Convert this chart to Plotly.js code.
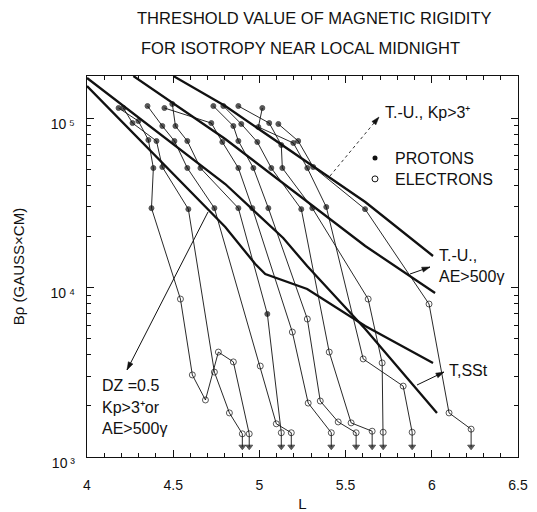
<!DOCTYPE html>
<html><head><meta charset="utf-8">
<script src="https://cdn.plot.ly/plotly-3.0.1.min.js"></script>
<style>html,body{margin:0;padding:0;background:#fff}#chart{width:537px;height:512px}</style>
</head><body><div id="chart"></div>
<script>
// ---- Data ----
// Model curves (L, B-rho in gauss*cm)
const tuKpL = [4.501, 4.802, 5.614, 6.007];
const tuKpB = [1.769e5, 1.177e5, 3.194e4, 1.534e4];
const tuAeL = [4.269, 4.802, 5.614, 6.019];
const tuAeB = [1.769e5, 7.52e4, 1.757e4, 9.28e3];
const dzL = [4.0, 4.802, 4.976, 5.034, 5.277, 5.614, 6.007];
const dzB = [1.545e5, 2.275e4, 1.376e4, 1.201e4, 9.80e3, 5.93e3, 3.59e3];
const sstL = [4.0, 4.802, 5.138, 5.277, 5.614, 6.030];
const sstB = [1.722e5, 4.08e4, 1.959e4, 1.339e4, 5.69e3, 1.818e3];

// Satellite passes: first nProton points are protons, the rest electrons; last point is an upper limit
const p1L = [4.183, 4.298, 4.356, 4.385, 4.374, 4.542, 4.611, 4.687, 4.762, 4.849, 4.941];
const p1B = [1.146e5, 9.60e4, 7.42e4, 5.07e4, 2.94e4, 8.55e3, 3.05e3, 2.17e3, 4.16e3, 3.64e3, 1.37e3];
const p2L = [4.211, 4.264, 4.403, 4.437, 4.588, 4.739, 4.826, 4.901];
const p2B = [1.146e5, 9.34e4, 7.32e4, 5.14e4, 2.90e4, 3.17e3, 1.82e3, 1.37e3];
const p3L = [4.351, 4.437, 4.507, 4.582, 4.739, 5.005, 5.098, 5.185];
const p3B = [1.177e5, 8.97e4, 7.32e4, 5.07e4, 2.94e4, 3.44e3, 1.57e3, 1.39e3];
const p4L = [4.495, 4.513, 4.582, 4.658, 4.878, 5.046, 5.127];
const p4B = [1.21e5, 8.97e4, 7.32e4, 5.07e4, 2.94e4, 6.98e3, 1.39e3];
const p5L = [4.449, 4.721, 4.785, 4.878, 4.959, 5.191, 5.283, 5.417];
const p5B = [1.146e5, 9.34e4, 7.22e4, 5.07e4, 2.94e4, 5.46e3, 2.08e3, 1.39e3];
const p6L = [4.733, 4.849, 4.878, 4.965, 5.052, 5.278, 5.353, 5.457, 5.561];
const p6B = [1.177e5, 8.97e4, 7.32e4, 5.07e4, 2.94e4, 6.52e3, 2.14e3, 1.61e3, 1.39e3];
const p7L = [4.791, 4.895, 4.988, 5.069, 5.243, 5.405, 5.532, 5.654];
const p7B = [1.177e5, 9.22e4, 7.22e4, 5.07e4, 2.90e4, 4.16e3, 1.59e3, 1.42e3];
const p8L = [4.878, 5.057, 5.127, 5.133, 5.307, 5.631, 5.712, 5.718];
const p8B = [1.177e5, 9.34e4, 6.93e4, 5.07e4, 2.94e4, 8.55e3, 3.59e3, 1.40e3];
const p9L = [5.017, 4.994, 5.197, 5.278, 5.388, 5.602, 5.834, 5.886];
const p9B = [1.146e5, 8.85e4, 7.12e4, 5.07e4, 2.985e4, 3.79e3, 2.62e3, 1.40e3];
const p10L = [5.110, 5.225, 5.312, 5.613, 5.984, 6.100, 6.228];
const p10B = [9.22e4, 7.32e4, 5.14e4, 2.90e4, 7.99e3, 1.82e3, 1.46e3];
const nProton = [5, 5, 5, 6, 5, 5, 5, 5, 5, 4];
const limitTipB = 1.15e3;

const xTickVals = [4, 4.5, 5, 5.5, 6, 6.5];
const xTickText = ['4', '4.5', '5', '5.5', '6', '6.5'];
const yTickVals = [1e3, 1e4, 1e5];
const yTickText = ['10\u2009\u00B3', '10\u2009\u2074', '10\u2009\u2075'];

// ---- Build traces ----
const FONT = 'Liberation Sans, Arial, sans-serif';
const INK = '#111';
const passL = [p1L, p2L, p3L, p4L, p5L, p6L, p7L, p8L, p9L, p10L];
const passB = [p1B, p2B, p3B, p4B, p5B, p6B, p7B, p8B, p9B, p10B];
const traces = [];

passL.forEach((L, i) => {
  const B = passB[i];
  const xs = L.concat([L[L.length - 1]]);
  const ys = B.concat([limitTipB]);
  const sym = [], size = [];
  xs.forEach((_, j) => {
    if (j === xs.length - 1) { sym.push('triangle-down'); size.push(6); }
    else if (j < nProton[i]) { sym.push('circle'); size.push(5); }
    else { sym.push('circle-open'); size.push(6); }
  });
  traces.push({
    x: xs, y: ys, type: 'scatter', mode: 'lines+markers', showlegend: false,
    name: 'pass ' + (i + 1),
    line: {color: INK, width: 0.9},
    marker: {symbol: sym, size: size, color: INK, line: {color: INK, width: 1}}
  });
});

[[tuKpL, tuKpB, 'T.-U., Kp>3+'], [tuAeL, tuAeB, 'T.-U., AE>500γ'],
 [dzL, dzB, 'DZ=0.5'], [sstL, sstB, 'T,SSt']].forEach(([L, B, nm]) => {
  traces.push({x: L, y: B, type: 'scatter', mode: 'lines', name: nm, showlegend: false,
    line: {color: INK, width: 2.3}});
});

traces.push({x: [null], y: [null], type: 'scatter', mode: 'markers', name: 'PROTONS',
  legend: 'legend', marker: {symbol: 'circle', size: 5, color: INK}});
traces.push({x: [null], y: [null], type: 'scatter', mode: 'markers', name: 'ELECTRONS',
  legend: 'legend2', marker: {symbol: 'circle-open', size: 6, color: INK, line: {color: INK, width: 1}}});

const yMinor = [];
[1e3, 1e4, 1e5].forEach(d => { for (let k = 2; k <= 9; k++) if (k * d < 1.77e5) yMinor.push(k * d); });

// plot area in pixels: x 87..518, y 76..457
const PX0 = 87, PW = 431, PY1 = 457, PH = 381;
const px = v => (v - PX0) / PW;
const py = v => (PY1 - v) / PH;
const txt = (t, xPix, yPix, size) => ({
  text: t, xref: 'paper', yref: 'paper', x: px(xPix), y: py(yPix),
  xanchor: 'left', yanchor: 'middle', showarrow: false,
  font: {family: FONT, size: size || 16, color: INK}
});
// pointer line from (x1,y1) to an arrow head at (x2,y2), pixel coordinates
const shapes = [];
function pointer(x1, y1, x2, y2, dash, width, color) {
  const c = color || INK;
  shapes.push({type: 'line', xref: 'paper', yref: 'paper', x0: px(x1), y0: py(y1), x1: px(x2), y1: py(y2),
    line: {color: c, width: width || 1, dash: dash || 'solid'}});
  const dx = x2 - x1, dy = y2 - y1, n = Math.hypot(dx, dy), ux = dx / n, uy = dy / n;
  const hl = 8, hw = 2.6;
  const bx = x2 - ux * hl, by = y2 - uy * hl;
  const p = [[x2, y2], [bx - uy * hw, by + ux * hw], [bx + uy * hw, by - ux * hw]];
  shapes.push({type: 'path', xref: 'paper', yref: 'paper', fillcolor: INK, line: {color: INK, width: 0.5},
    path: 'M' + p.map(q => px(q[0]) + ',' + py(q[1])).join('L') + 'Z'});
}
pointer(330, 176, 379, 117, 'dot', 1, '#333');
pointer(410, 274, 430, 267);
pointer(417, 385, 444, 372);
pointer(208, 212, 127, 370);

const legendBase = {xanchor: 'left', yanchor: 'top', bgcolor: 'rgba(0,0,0,0)', borderwidth: 0,
  font: {family: FONT, size: 16, color: INK}};

const layout = {
  width: 537, height: 512,
  margin: {l: PX0, r: 537 - PX0 - PW, t: PY1 - PH, b: 512 - PY1},
  paper_bgcolor: '#fff', plot_bgcolor: '#fff',
  font: {family: FONT, color: INK},
  title: {text: 'THRESHOLD VALUE OF MAGNETIC RIGIDITY', xref: 'container', x: 137 / 537,
    xanchor: 'left', y: 1 - 18 / 512, yanchor: 'middle', font: {family: FONT, size: 16.5, color: INK}},
  showlegend: true,
  legend: Object.assign({x: px(355), y: py(141)}, legendBase),
  legend2: Object.assign({x: px(355), y: py(162)}, legendBase),
  shapes: shapes,
  xaxis: {
    range: [4, 6.5], tickvals: xTickVals, ticktext: xTickText,
    ticks: 'inside', ticklen: 7, tickwidth: 1, tickcolor: INK,
    showline: true, linecolor: INK, linewidth: 1.3, mirror: 'allticks',
    showgrid: false, zeroline: false, tickfont: {size: 14, color: INK},
    ticklabelstandoff: 15,
    minor: {dtick: 0.1, ticks: 'inside', ticklen: 4, tickcolor: INK, showgrid: false},
    title: {text: 'L', font: {size: 15, color: INK}, standoff: 6}
  },
  yaxis: {
    type: 'log', range: [3, 5.248], tickvals: yTickVals, ticktext: yTickText,
    ticks: 'inside', ticklen: 7, tickwidth: 1, tickcolor: INK,
    showline: true, linecolor: INK, linewidth: 1.3, mirror: 'allticks',
    showgrid: false, zeroline: false, tickfont: {size: 14, color: INK},
    ticklabelstandoff: 8, ticklabelshift: 6,
    minor: {tickvals: yMinor, ticks: 'inside', ticklen: 4, tickcolor: INK, showgrid: false},
    title: {text: 'B\u03C1 (GAUSS\u00D7CM)', font: {size: 15, color: INK}, standoff: 22}
  },
  annotations: [
    txt('FOR ISOTROPY NEAR LOCAL MIDNIGHT', 139, 48, 16.5),
    txt('T.-U., Kp&gt;3\u207A', 383, 112),
    txt('T.-U.,', 437, 255),
    txt('AE&gt;500\u03B3', 437, 276),
    txt('T,SSt', 447, 370),
    txt('DZ =0.5', 100, 385),
    txt('Kp&gt;3\u207Aor', 100, 407),
    txt('AE&gt;500\u03B3', 100, 428)
  ]
};

Plotly.newPlot('chart', traces, layout, {displayModeBar: false, staticPlot: true});
</script></body></html>
